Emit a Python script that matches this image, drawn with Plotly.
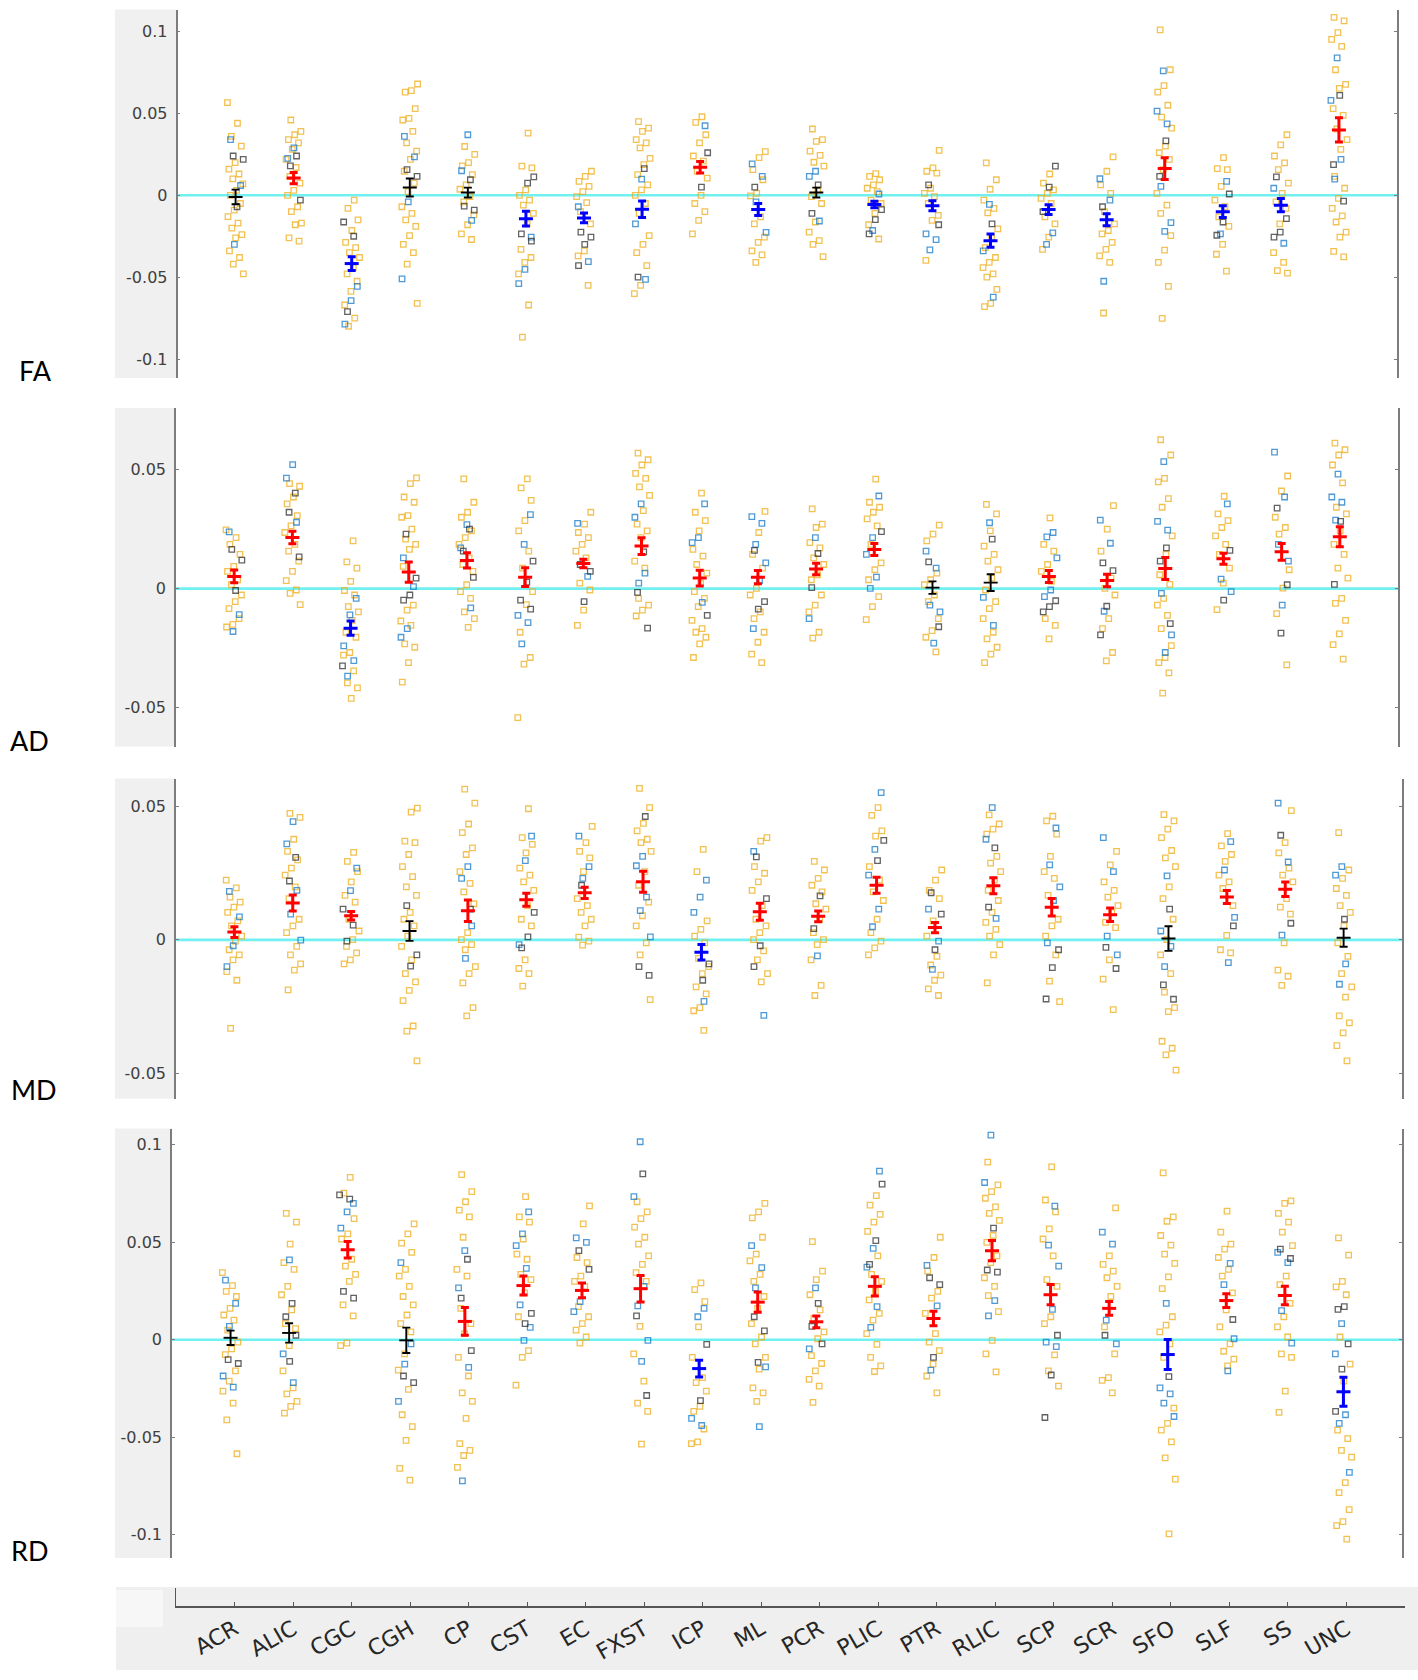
import plotly.graph_objects as go

CATEGORIES = ["ACR", "ALIC", "CGC", "CGH", "CP", "CST", "EC", "FXST", "ICP", "ML",
              "PCR", "PLIC", "PTR", "RLIC", "SCP", "SCR", "SFO", "SLF", "SS", "UNC"]

# ---------------- FA ----------------
FA_MEAN = [-0.001, 0.0105, -0.0417, 0.0048, 0.0017, -0.0143, -0.0138, -0.0085, 0.0171, -0.0087,
           0.0017, -0.0056, -0.0064, -0.0277, -0.0087, -0.0149, 0.0163, -0.010, -0.006, 0.0399]
FA_ERR = [0.0045, 0.0035, 0.0042, 0.0055, 0.003, 0.0045, 0.003, 0.005, 0.0035, 0.0037,
          0.003, 0.002, 0.003, 0.004, 0.003, 0.0037, 0.0067, 0.0036, 0.004, 0.0074]
FA_SIG = [0, 1, -1, 0, 0, -1, -1, -1, 1, -1, 0, -1, -1, -1, -1, -1, 1, -1, -1, 1]
FA_ORANGE = [
    [0.0566, 0.044, 0.036, 0.030, 0.020, 0.016, 0.013, 0.010, 0.007, 0.003, 0.0, -0.005, -0.009, -0.013, -0.017, -0.020, -0.024, -0.026, -0.034, -0.038, -0.042, -0.048],
    [0.046, 0.039, 0.037, 0.034, 0.032, 0.028, 0.022, 0.017, 0.0115, 0.0075, 0.003, 0.0, -0.007, -0.010, -0.017, -0.018, -0.026, -0.028],
    [-0.003, -0.008, -0.015, -0.0215, -0.0287, -0.032, -0.035, -0.038, -0.0442, -0.048, -0.0525, -0.0587, -0.067, -0.075, -0.080],
    [0.068, 0.064, 0.063, 0.053, 0.047, 0.046, 0.039, 0.032, 0.027, 0.022, 0.0147, 0.0074, 0.0023, -0.007, -0.011, -0.015, -0.019, -0.0246, -0.030, -0.035, -0.042, -0.066],
    [0.0298, 0.025, 0.020, 0.018, 0.0126, 0.0064, 0.0037, -0.0008, -0.004, -0.012, -0.018, -0.0236, -0.027],
    [0.038, 0.0178, 0.0167, 0.0033, 0.0, -0.003, -0.006, -0.011, -0.0174, -0.033, -0.038, -0.041, -0.048, -0.067, -0.0866],
    [0.0147, 0.0116, 0.0085, 0.0054, 0.0023, -0.0008, -0.0045, -0.010, -0.0174, -0.034, -0.037, -0.055],
    [0.045, 0.041, 0.039, 0.034, 0.032, 0.029, 0.0225, 0.0188, 0.0126, 0.0064, 0.0033, 0.0, -0.005, -0.011, -0.0246, -0.030, -0.035, -0.043, -0.055, -0.060],
    [0.048, 0.0446, 0.037, 0.032, 0.024, 0.0209, 0.0147, 0.0105, 0.0, -0.005, -0.010, -0.0153, -0.0236],
    [0.0267, 0.023, 0.0157, 0.0095, 0.0012, -0.0004, -0.0132, -0.0174, -0.0256, -0.0287, -0.034, -0.0364, -0.041],
    [0.0405, 0.034, 0.033, 0.027, 0.0244, 0.0202, 0.0178, 0.0033, -0.0008, -0.005, -0.0163, -0.0225, -0.0277, -0.030, -0.0374],
    [0.0132, 0.0116, 0.0095, 0.0064, 0.0043, 0.0023, -0.0029, -0.005, -0.011, -0.018, -0.0267],
    [0.0275, 0.0167, 0.0147, 0.0136, 0.0043, 0.0012, -0.0008, -0.005, -0.0122, -0.0153, -0.0397],
    [0.0198, 0.0095, 0.0037, -0.003, -0.008, -0.0107, -0.0205, -0.0256, -0.032, -0.038, -0.041, -0.0442, -0.048, -0.050, -0.0575, -0.066, -0.068],
    [0.013, 0.0074, 0.0033, 0.0012, -0.0019, -0.005, -0.0132, -0.0174, -0.0256, -0.033],
    [0.0235, 0.0147, 0.0064, 0.0012, -0.010, -0.0174, -0.0215, -0.0236, -0.0287, -0.033, -0.037, -0.041, -0.0719],
    [0.101, 0.0767, 0.067, 0.063, 0.055, 0.0477, 0.041, 0.030, 0.026, 0.022, 0.0157, 0.0012, -0.006, -0.011, -0.0246, -0.0335, -0.041, -0.0556, -0.0752],
    [0.023, 0.0163, 0.0157, 0.0054, -0.003, -0.007, -0.0132, -0.019, -0.030, -0.036, -0.0463],
    [0.037, 0.0308, 0.024, 0.0198, 0.0157, 0.0074, 0.0012, -0.004, -0.008, -0.0174, -0.035, -0.041, -0.046, -0.0475],
    [0.1087, 0.1066, 0.0994, 0.0952, 0.091, 0.0767, 0.0678, 0.0653, 0.053, 0.0488, 0.0405, 0.034, 0.0281, 0.0116, 0.0043, -0.0019, -0.008, -0.0126, -0.0163, -0.0225, -0.0256, -0.0343, -0.0376],
]
FA_BLUE = [
    [0.034, 0.006, -0.030], [0.029, 0.0225], [-0.0556, -0.0643, -0.0787], [0.036, 0.0235, -0.004, -0.051],
    [0.037, 0.015, -0.0153], [-0.0256, -0.0452, -0.054], [-0.007, -0.0405], [0.0099, -0.0174, -0.0514],
    [0.0425], [0.0192, 0.0116, -0.004, -0.0227], [0.0147, 0.0116, -0.0157], [0.0008, -0.0215],
    [-0.0236, -0.0271, -0.0333], [-0.0056, -0.034, -0.0622], [-0.0229, -0.030], [0.0101, -0.003, -0.0525],
    [0.076, 0.0514, 0.0436, 0.0054, -0.0167, -0.022], [0.0085, -0.0236], [0.0043, -0.0293], [0.0839, 0.058, 0.022, 0.0099],
]
FA_DARK = [
    [0.024, 0.022, -0.007], [0.024, 0.018, -0.003], [-0.0163, -0.025, -0.0711], [0.0157, 0.0116],
    [0.0095, -0.0066, -0.009], [0.0112, 0.0074, -0.0236, -0.028], [-0.0225, -0.0256, -0.030, -0.043], [0.0163, -0.050],
    [0.026, 0.005], [0.005], [0.0064, -0.011], [-0.0087, -0.0149, -0.0236],
    [0.0064, -0.018], [-0.0174], [0.0178, 0.005, -0.010], [-0.007],
    [0.0333, 0.0116], [0.0008, -0.0163, -0.0244], [0.0112, -0.0143, -0.0225, -0.0256], [0.061, 0.0188, -0.0035],
]

# ---------------- AD ----------------
AD_MEAN = [0.0051, 0.0214, -0.0166, 0.0069, 0.0118, 0.0048, 0.0105, 0.0178, 0.0044, 0.0048,
           0.0082, 0.0164, 0.0004, 0.0025, 0.0051, 0.0034, 0.0084, 0.0125, 0.0154, 0.0217]
AD_ERR = [0.0027, 0.0026, 0.003, 0.0042, 0.0032, 0.0039, 0.0018, 0.0035, 0.0033, 0.0028,
          0.0024, 0.0025, 0.0026, 0.0035, 0.0025, 0.0026, 0.0046, 0.0023, 0.0035, 0.0042]
AD_SIG = [1, 1, -1, 1, 1, 1, 1, 1, 1, 1, 1, 1, 0, 0, 1, 1, 1, 1, 1, 1]
AD_ORANGE = [
    [0.0246, 0.0214, 0.0185, 0.0143, 0.0093, 0.0072, 0.0037, 0.0016, -0.0027, -0.0055, -0.0084, -0.0126, -0.015, -0.0161],
    [0.044, 0.0429, 0.0384, 0.0355, 0.0306, 0.0263, 0.0235, 0.0185, 0.0157, 0.0115, 0.0072, 0.0033, -0.0006, -0.002, -0.0067],
    [0.020, 0.0112, 0.0086, 0.003, -0.0008, -0.0027, -0.0076, -0.0098, -0.0133, -0.0183, -0.0204, -0.0268, -0.0279, -0.0345, -0.0395, -0.0416, -0.046],
    [0.0464, 0.044, 0.0384, 0.0362, 0.0306, 0.0299, 0.0249, 0.0207, 0.0185, 0.0164, 0.0093, -0.0069, -0.009, -0.0136, -0.0154, -0.0232, -0.0246, -0.031, -0.0392],
    [0.046, 0.0362, 0.032, 0.0299, 0.0242, 0.0214, 0.0185, 0.0129, 0.0101, 0.0072, 0.0016, -0.0013, -0.0041, -0.0098, -0.0126, -0.0163],
    [0.046, 0.0422, 0.037, 0.0285, 0.0242, 0.0157, 0.0086, -0.0013, -0.0067, -0.0183, -0.0289, -0.0317, -0.0541],
    [0.032, 0.027, 0.0235, 0.0214, 0.0185, 0.0157, 0.0129, 0.0023, -0.0006, -0.009, -0.0154],
    [0.0568, 0.054, 0.0518, 0.0483, 0.0462, 0.0426, 0.0391, 0.0327, 0.027, 0.0242, 0.0214, 0.0115, 0.0086, -0.0041, -0.0069, -0.009, -0.0115],
    [0.040, 0.032, 0.0285, 0.0242, 0.0164, 0.0136, 0.0101, 0.0065, 0.0023, -0.0013, -0.0041, -0.0076, -0.0133, -0.0168, -0.0183, -0.0204, -0.0232, -0.0289],
    [0.0324, 0.0235, 0.0143, 0.0086, 0.0001, -0.0027, -0.0098, -0.0126, -0.0183, -0.0225, -0.0275, -0.031],
    [0.0334, 0.027, 0.0256, 0.0193, 0.0171, 0.0129, 0.0101, 0.0058, 0.0037, -0.0027, -0.0069, -0.0098, -0.0183, -0.0208],
    [0.0459, 0.0362, 0.0341, 0.032, 0.0292, 0.0263, 0.0185, 0.0108, 0.0079, 0.0037, -0.0034, -0.0076, -0.013],
    [0.0266, 0.0228, 0.020, 0.0065, 0.0037, 0.0016, -0.0027, -0.0055, -0.0126, -0.0176, -0.0204, -0.0265],
    [0.0353, 0.0313, 0.0242, 0.0178, 0.0143, 0.0115, 0.0079, 0.0044, -0.0006, -0.0055, -0.0084, -0.0126, -0.0183, -0.0211, -0.0246, -0.0275, -0.031],
    [0.0296, 0.0185, 0.0157, 0.0101, 0.0072, 0.003, -0.0126, -0.0154, -0.0211],
    [0.0348, 0.0249, 0.0157, 0.0044, 0.0001, -0.0027, -0.0126, -0.0168, -0.0268, -0.0303],
    [0.0624, 0.056, 0.0462, 0.0447, 0.0377, 0.0341, 0.0221, 0.0143, 0.0058, 0.0018, -0.0041, -0.0069, -0.0112, -0.0168, -0.0239, -0.0289, -0.031, -0.0353, -0.0438],
    [0.0387, 0.0313, 0.0285, 0.0256, 0.0221, 0.0185, 0.0143, 0.0086, 0.0023, -0.0088],
    [0.0472, 0.0409, 0.0299, 0.0256, 0.0228, 0.0079, 0.0002, -0.0105, -0.032],
    [0.061, 0.0582, 0.056, 0.0518, 0.0443, 0.0341, 0.0313, 0.0242, 0.0185, 0.0143, 0.0086, 0.0044, -0.0041, -0.0062, -0.0133, -0.019, -0.0235, -0.0296],
]
AD_BLUE = [
    [0.0238, -0.0109, -0.018], [0.052, 0.0463, 0.0278], [-0.0041, -0.011, -0.024, -0.0302, -0.0367], [0.0129, 0.0008, -0.0168, -0.0204],
    [0.0268, 0.0171, -0.0081], [0.031, 0.0185, -0.0112, -0.0143, -0.0232], [0.0273, 0.0051], [0.0355, 0.0299, 0.0065, 0.0023],
    [0.0355, 0.0214, 0.0193, -0.0058], [0.0302, 0.0273, 0.0185, 0.0108, 0.0033, -0.0168], [0.0214, -0.0126], [0.0388, 0.0214, 0.0143, 0.0048, 0.0001],
    [0.0157, 0.0086, -0.0069, -0.0098, -0.0229], [0.0276, -0.0037, -0.0154], [0.0235, 0.0217, 0.0129, -0.0006, -0.0034], [0.0287, 0.019, -0.0095],
    [0.0532, 0.0282, 0.0245, -0.002, -0.0194, -0.0268], [0.0355, 0.004, -0.0013], [0.0572, 0.0384, 0.0185, 0.0115, -0.0069], [0.048, 0.0384, 0.0362, 0.0287],
]
AD_DARK = [
    [0.0164, 0.0119, -0.0008], [0.040, 0.032, 0.0133], [-0.0324], [0.0228, 0.0044, -0.0027, -0.0048],
    [0.0249, 0.0157, 0.0047], [0.0115, 0.0027, -0.0048, -0.0086], [0.0101, 0.0072, -0.0055], [0.0154, -0.0016, -0.0166],
    [-0.0112], [0.016, -0.0055, -0.0086], [0.0147, 0.0004], [0.0239],
    [0.0112, -0.016], [0.0207], [-0.0051, -0.0076, -0.0098], [0.0108, 0.0075, -0.0074, -0.0194],
    [0.0171, 0.0115, -0.0147], [0.016, -0.0048], [0.0337, 0.0016, -0.0187], [0.0282, 0.0018],
]

# ---------------- MD ----------------
MD_MEAN = [0.0029, 0.0138, 0.009, 0.0033, 0.0109, 0.015, 0.0176, 0.0217, -0.0046, 0.0105,
           0.0088, 0.0204, 0.0046, 0.0202, 0.0122, 0.0094, 0.0005, 0.016, 0.0189, 0.0008]
MD_ERR = [0.002, 0.003, 0.0016, 0.0037, 0.004, 0.0024, 0.0021, 0.0039, 0.0029, 0.0032,
          0.002, 0.003, 0.0019, 0.003, 0.0033, 0.0025, 0.0046, 0.0024, 0.0027, 0.0034]
MD_SIG = [1, 1, 1, 0, 1, 1, 1, 1, -1, 1, 1, 1, 1, 1, 1, 1, 0, 1, 1, 0]
MD_ORANGE = [
    [0.0223, 0.0194, 0.016, 0.0141, 0.0122, 0.0103, 0.0071, 0.0052, 0.0014, -0.0005, -0.0037, -0.0056, -0.0075, -0.0119, -0.0151, -0.0331],
    [0.0473, 0.0458, 0.0376, 0.0331, 0.0299, 0.0268, 0.0242, 0.0198, 0.0154, 0.0077, 0.0052, 0.0027, -0.0024, -0.0056, -0.009, -0.0113, -0.0187],
    [0.0327, 0.0293, 0.0255, 0.0217, 0.0166, 0.0141, 0.0077, 0.0033, 0.0001, -0.0024, -0.0049, -0.0075, -0.009],
    [0.0492, 0.0477, 0.0369, 0.0363, 0.0319, 0.0274, 0.0236, 0.0198, 0.0166, 0.0103, 0.0077, 0.0052, 0.0014, -0.0024, -0.0075, -0.0126, -0.0157, -0.0189, -0.0227, -0.0322, -0.0341, -0.0452],
    [0.0563, 0.0511, 0.0433, 0.0401, 0.0344, 0.0319, 0.0255, 0.0211, 0.0179, 0.0135, 0.0027, 0.0001, -0.0018, -0.0037, -0.01, -0.0126, -0.0161, -0.0253, -0.0284],
    [0.049, 0.0382, 0.0357, 0.0325, 0.0268, 0.0242, 0.0217, 0.0185, 0.0128, 0.0077, 0.0052, -0.0075, -0.0107, -0.0126, -0.0173],
    [0.0424, 0.0363, 0.0331, 0.0306, 0.0255, 0.0154, 0.0128, 0.0103, 0.0077, 0.0052, 0.001, -0.0005, -0.002],
    [0.0566, 0.0494, 0.0435, 0.0407, 0.0376, 0.0363, 0.0331, 0.0255, 0.0204, 0.0141, 0.009, 0.0052, -0.0011, -0.0056, -0.0223],
    [0.0338, 0.0255, 0.0071, 0.0039, 0.0014, -0.0011, -0.0069, -0.01, -0.0126, -0.0176, -0.0202, -0.0253, -0.0265, -0.0338],
    [0.0382, 0.0369, 0.0274, 0.0249, 0.0217, 0.0185, 0.0128, 0.0077, 0.0052, 0.0027, 0.0001, -0.0041, -0.0075, -0.0126, -0.0157],
    [0.0293, 0.0261, 0.023, 0.0204, 0.0179, 0.0135, 0.0115, 0.0077, 0.0027, 0.0001, -0.0018, -0.0075, -0.017, -0.0208],
    [0.0494, 0.0465, 0.0407, 0.0388, 0.0274, 0.0223, 0.0179, 0.0147, 0.0077, 0.0027, -0.0005, -0.003, -0.0056],
    [0.0261, 0.0223, 0.0185, 0.0154, 0.0071, 0.0014, -0.0062, -0.0094, -0.0132, -0.0151, -0.0183, -0.0208],
    [0.0467, 0.0433, 0.0414, 0.0395, 0.0312, 0.0287, 0.0255, 0.0223, 0.0185, 0.0147, 0.0103, 0.0065, 0.0039, 0.0014, -0.0018, -0.0056, -0.0161],
    [0.0462, 0.0445, 0.0395, 0.0312, 0.0255, 0.023, 0.0166, 0.0077, 0.0052, 0.0014, -0.0056, -0.0154, -0.0231],
    [0.0331, 0.028, 0.0217, 0.0185, 0.016, 0.0128, 0.0103, 0.0065, 0.0046, -0.0075, -0.0147, -0.0261],
    [0.0468, 0.0445, 0.0414, 0.0382, 0.0334, 0.0306, 0.0274, 0.0198, 0.0154, 0.0077, 0.0001, -0.0056, -0.0126, -0.0195, -0.0253, -0.0268, -0.0379, -0.0405, -0.043, -0.0487],
    [0.0397, 0.0351, 0.0319, 0.0293, 0.0242, 0.0217, 0.0192, 0.0128, 0.0017, -0.0037, -0.0049],
    [0.0483, 0.0363, 0.0325, 0.0268, 0.0242, 0.0217, 0.0154, 0.0122, 0.0096, -0.0011, -0.0113, -0.0136, -0.017],
    [0.0401, 0.0261, 0.023, 0.0192, 0.0166, 0.0128, 0.0103, 0.0052, -0.0011, -0.0062, -0.0126, -0.0176, -0.0214, -0.0284, -0.031, -0.0348, -0.0395, -0.0452],
]
MD_BLUE = [
    [0.0181, 0.0086, -0.0022, -0.01], [0.0442, 0.0359, 0.0185, 0.0096, -0.0001], [0.0268, 0.0184], [],
    [0.0274, 0.023, 0.0052, -0.0069], [0.0388, 0.0296, -0.0018], [0.0388, 0.0274, 0.023], [0.0312, 0.0277, 0.016, 0.0109, 0.0011],
    [0.0223, 0.016, 0.0103, -0.023], [0.0331, -0.0282], [-0.006], [0.055, 0.0338, 0.0242, 0.0115, 0.0049],
    [0.0115, -0.0005, -0.011], [0.0494, 0.0376, 0.008], [0.0418, 0.028, 0.0198, 0.0147, -0.0011], [0.0382, 0.0255, 0.0014, -0.0056],
    [0.0239, 0.0033, -0.0024, -0.01], [0.0367, 0.0261, 0.0084, -0.0085], [0.0511, 0.0291, 0.0018], [0.0274, 0.0242, -0.009, -0.0166],
]
MD_DARK = [
    [], [0.0308, 0.022], [0.0115, 0.0055, -0.0005], [0.0128, -0.0056, -0.0098],
    [0.0115], [0.0103, 0.0011, -0.003], [0.0204], [0.0461, -0.01, -0.0133],
    [-0.009, -0.0151], [0.031, 0.0154, -0.0022, -0.01], [0.0164, 0.0042], [0.0372, 0.0296],
    [0.0176, 0.0096, -0.0037], [0.0344, 0.0122], [-0.0037, -0.0104, -0.0221], [-0.0028, -0.0107],
    [0.0115, -0.0168, -0.0222], [0.0052], [0.0391, 0.0062], [0.0077],
]

# ---------------- RD ----------------
RD_MEAN = [0.001, 0.0035, 0.0462, -0.0003, 0.0094, 0.0278, 0.0253, 0.0262, -0.0148, 0.0193,
           0.0092, 0.0274, 0.0109, 0.0457, 0.0231, 0.0161, -0.0076, 0.0201, 0.0227, -0.0267]
RD_ERR = [0.0037, 0.005, 0.0042, 0.0065, 0.0071, 0.0049, 0.0038, 0.0068, 0.0043, 0.0052,
          0.003, 0.0049, 0.0037, 0.0052, 0.0052, 0.0035, 0.0077, 0.0035, 0.0048, 0.0074]
RD_SIG = [0, 0, 1, 0, 1, 1, 1, 1, -1, 1, 1, 1, 1, 1, 1, 1, -1, 1, 1, -1]
RD_ORANGE = [
    [0.0344, 0.0278, 0.0248, 0.0222, 0.0161, 0.0127, 0.0101, 0.0049, -0.0012, -0.0047, -0.0076, -0.016, -0.0212, -0.0264, -0.0325, -0.0411, -0.0585],
    [0.0648, 0.0604, 0.0491, 0.0396, 0.0361, 0.0274, 0.0231, 0.0153, 0.0083, 0.0057, -0.003, -0.016, -0.0247, -0.0278, -0.0316, -0.0342, -0.0377],
    [0.0833, 0.0752, 0.0622, 0.0543, 0.0517, 0.0413, 0.0378, 0.0335, 0.03, 0.0179, 0.0122, -0.0017, -0.003],
    [0.0595, 0.0543, 0.0496, 0.0448, 0.0361, 0.0326, 0.0274, 0.0222, 0.0179, 0.0127, 0.0083, 0.004, -0.0073, -0.0156, -0.0255, -0.0385, -0.0446, -0.0516, -0.066, -0.072],
    [0.0847, 0.076, 0.0708, 0.0665, 0.063, 0.0526, 0.0361, 0.0326, 0.0161, 0.0083, 0.0031, -0.009, -0.0186, -0.0273, -0.0316, -0.0403, -0.0533, -0.0568, -0.0594, -0.0655],
    [0.0734, 0.063, 0.0604, 0.0517, 0.0439, 0.0413, 0.0335, 0.0309, 0.024, 0.0118, -0.0056, -0.009, -0.0233],
    [0.0687, 0.0595, 0.0422, 0.0396, 0.0326, 0.03, 0.0274, 0.017, 0.0118, 0.0083, 0.0049, 0.0014, -0.0017],
    [0.0708, 0.0656, 0.0622, 0.0578, 0.0526, 0.0491, 0.043, 0.0387, 0.0344, 0.03, 0.0069, -0.0073, -0.0212, -0.0325, -0.0368, -0.0536],
    [0.0292, 0.0257, 0.0196, 0.0066, -0.009, -0.0194, -0.022, -0.0264, -0.0342, -0.0368, -0.0458, -0.0524, -0.0533],
    [0.07, 0.0656, 0.0625, 0.0526, 0.0439, 0.0405, 0.0335, 0.03, 0.0222, 0.0161, 0.0083, 0.0014, -0.0021, -0.009, -0.0151, -0.0247, -0.0273, -0.0316],
    [0.0503, 0.0352, 0.0309, 0.0231, 0.0153, 0.0109, 0.004, 0.0005, -0.0082, -0.0122, -0.016, -0.0203, -0.0238, -0.0321],
    [0.074, 0.0691, 0.0643, 0.0604, 0.0556, 0.043, 0.0335, 0.03, 0.0248, 0.0205, 0.0135, 0.0101, 0.0031, -0.0024, -0.009, -0.0134, -0.0163],
    [0.0526, 0.0422, 0.0352, 0.0248, 0.0214, 0.0135, 0.0031, -0.0012, -0.0056, -0.0125, -0.0186, -0.0273],
    [0.0911, 0.0795, 0.076, 0.0726, 0.0682, 0.0648, 0.0613, 0.0535, 0.05, 0.043, 0.0396, 0.0318, 0.0274, 0.0226, 0.0144, -0.0003, -0.0073, -0.0165],
    [0.0887, 0.0717, 0.0656, 0.0569, 0.0517, 0.043, 0.0309, 0.0274, 0.0118, 0.0083, -0.0078, -0.016, -0.0238],
    [0.0677, 0.043, 0.0387, 0.0352, 0.0318, 0.0274, 0.0222, 0.0066, -0.0073, -0.0194, -0.0208, -0.0273],
    [0.0856, 0.063, 0.0608, 0.0535, 0.0486, 0.0439, 0.0392, 0.0323, 0.0262, 0.0118, 0.0075, 0.004, -0.0021, -0.009, -0.0351, -0.0429, -0.0464, -0.0524, -0.0606, -0.0715, -0.0996],
    [0.066, 0.0552, 0.0491, 0.0465, 0.0422, 0.0361, 0.0326, 0.024, 0.0153, 0.0066, -0.0021, -0.0059, -0.0099, -0.0134],
    [0.0713, 0.07, 0.0648, 0.0604, 0.0552, 0.0483, 0.0326, 0.0283, 0.0187, 0.0118, 0.0066, 0.0014, -0.0073, -0.009, -0.0264, -0.0373],
    [0.0523, 0.0434, 0.03, 0.0271, 0.0231, 0.0014, -0.0125, -0.0212, -0.0464, -0.0507, -0.0568, -0.0602, -0.0733, -0.0785, -0.0872, -0.0933, -0.0954, -0.1023],
]
RD_BLUE = [
    [0.0306, 0.0187, 0.0069, -0.0186, -0.0243], [0.041, -0.0073, -0.022], [0.07, 0.0656, 0.0573], [0.0396, -0.0021, -0.0125, -0.0316],
    [0.0457, 0.0266, -0.0142, -0.0724], [0.0656, 0.0543, 0.0483, 0.0366, 0.0179, 0.0063, -0.0003], [0.0523, 0.05, 0.0196, 0.0144], [0.1016, 0.0734, 0.0274, 0.0174, -0.0003, -0.0111],
    [0.0161, 0.0118, -0.0403, -0.044], [0.0483, 0.037, 0.0266, -0.0139, -0.0446], [0.0266, -0.0047], [0.0865, 0.0469, 0.0373, 0.017, 0.0063],
    [0.0382, 0.0174, -0.0156], [0.105, 0.0807, 0.0201, 0.0122], [0.0686, 0.0486, 0.0378, 0.0156, -0.0012, -0.0035], [0.0552, 0.0491, 0.0101, -0.0021],
    [0.0187, -0.0247, -0.0278, -0.0325, -0.0394], [0.0392, 0.0283, 0.0005, -0.016], [0.0448, 0.0396, 0.0149, -0.0017], [0.0083, -0.0073, -0.0385, -0.0429, -0.0681],
]
RD_DARK = [
    [-0.0102, -0.0122], [0.0187, 0.0118, 0.0023, -0.0111], [0.0743, 0.0722, 0.0248, 0.0214], [-0.0186, -0.022],
    [0.0413, 0.0214, -0.0056], [0.0135, 0.0083], [0.0457, 0.0361], [0.0851, 0.0122, -0.0286],
    [-0.0024, -0.0312], [0.0118, 0.0045, -0.0116], [0.0187, 0.0069, -0.0021], [0.0799, 0.0509, 0.0387],
    [0.0318, 0.0283, -0.009], [0.0573, 0.0358, 0.0347], [0.0023, -0.0181, -0.0399], [0.0023],
    [-0.0189], [0.0104], [0.0465, 0.0417], [0.017, 0.0156, -0.0021, -0.0151, -0.0368],
]

FA_TICKS = [-0.1, -0.05, 0, 0.05, 0.1]
AD_TICKS = [-0.05, 0, 0.05]
MD_TICKS = [-0.05, 0, 0.05]
RD_TICKS = [-0.1, -0.05, 0, 0.05, 0.1]

# ---------------- layout geometry (pixels) ----------------
W, H = 1418, 1680


def fx(p):
    return p / W


def fy(p):
    return 1 - p / H


panels = [
    # name, mean, err, sig, orange, blue, dark, ticks, yrange, (left, right, top, bottom), label centre
    ("FA", FA_MEAN, FA_ERR, FA_SIG, FA_ORANGE, FA_BLUE, FA_DARK, FA_TICKS, [-0.1116, 0.1135], (177.5, 1397, 9.5, 378), (35, 370)),
    ("AD", AD_MEAN, AD_ERR, AD_SIG, AD_ORANGE, AD_BLUE, AD_DARK, AD_TICKS, [-0.0662, 0.0757], (176, 1398, 408, 746.5), (29, 740)),
    ("MD", MD_MEAN, MD_ERR, MD_SIG, MD_ORANGE, MD_BLUE, MD_DARK, MD_TICKS, [-0.0594, 0.0603], (176, 1402, 778.5, 1098.8), (34, 1089)),
    ("RD", RD_MEAN, RD_ERR, RD_SIG, RD_ORANGE, RD_BLUE, RD_DARK, RD_TICKS, [-0.112, 0.1084], (172, 1402, 1128.5, 1558), (29, 1550)),
]

ORANGE = "rgba(238,172,24,0.75)"
BLUE = "rgba(20,120,200,0.75)"
DARK = "rgba(45,45,45,0.75)"
CYAN = "rgba(96,238,238,0.9)"
SIG_COL = {1: "#ff0000", -1: "#0000ff", 0: "#000000"}
AXCOL = "#7d7d7d"
TICKFONT = dict(family="DejaVu Sans", size=16, color="#404040")


def jitter(k, seed, amp=0.14):
    return (((k + seed) * 0.6180339887) % 1.0 - 0.5) * 2 * amp


def tick_text(v):
    if v == 0:
        return "0"
    return ("%g" % v)


fig = go.Figure()
shapes = []
annotations = []
layout_axes = {}

for pi, (name, mean, err, sig, org, blu, drk, ticks, yr, box, lab) in enumerate(panels):
    n = pi + 1
    xa = "x" if n == 1 else "x%d" % n
    ya = "y" if n == 1 else "y%d" % n
    left, right, top, bottom = box

    # zero line
    fig.add_trace(go.Scatter(x=[0, 21], y=[0, 0], mode="lines", line=dict(color=CYAN, width=2.6),
                             xaxis=xa, yaxis=ya, hoverinfo="skip", showlegend=False))

    for group, col, seed in ((org, ORANGE, 0.0), (blu, BLUE, 0.31), (drk, DARK, 0.57)):
        xs, ys = [], []
        for ci, vals in enumerate(group):
            for k, v in enumerate(vals):
                xs.append(ci + 1 + jitter(k + ci * 7, seed))
                ys.append(v)
        fig.add_trace(go.Scatter(x=xs, y=ys, mode="markers",
                                 marker=dict(symbol="square-open", size=5.5, color=col, line=dict(width=1.3, color=col)),
                                 xaxis=xa, yaxis=ya, hoverinfo="skip", showlegend=False))

    for s in (0, -1, 1):
        idx = [i for i in range(len(CATEGORIES)) if sig[i] == s]
        if not idx:
            continue
        thick = 1.9 if s == 0 else 3.0
        fig.add_trace(go.Scatter(
            x=[i + 1 for i in idx], y=[mean[i] for i in idx], mode="markers",
            marker=dict(symbol="line-ew", size=10, color=SIG_COL[s], line=dict(width=thick, color=SIG_COL[s])),
            error_y=dict(type="data", array=[err[i] for i in idx], visible=True, color=SIG_COL[s],
                         thickness=thick, width=4),
            xaxis=xa, yaxis=ya, hoverinfo="skip", showlegend=False))

    layout_axes["xaxis" if n == 1 else "xaxis%d" % n] = dict(
        domain=[fx(left), fx(right)], range=[0, 21], anchor=ya, visible=False, fixedrange=True)
    layout_axes["yaxis" if n == 1 else "yaxis%d" % n] = dict(
        domain=[fy(bottom), fy(top)], range=yr, anchor=xa, showline=True, linecolor=AXCOL, linewidth=1.6,
        mirror="ticks", ticks="inside", ticklen=3, tickcolor=AXCOL, tickwidth=1,
        tickvals=ticks, ticktext=[tick_text(t) for t in ticks], tickfont=TICKFONT,
        showgrid=False, zeroline=False, ticklabelstandoff=5)

    # grey strip left of the y axis
    shapes.append(dict(type="rect", xref="paper", yref="paper", x0=fx(115), x1=fx(left),
                       y0=fy(bottom), y1=fy(top), fillcolor="#f0f0f0", line=dict(width=0), layer="below"))
    annotations.append(dict(text=name, xref="paper", yref="paper", x=fx(lab[0]), y=fy(lab[1]),
                            xanchor="center", yanchor="middle", showarrow=False,
                            font=dict(family="Lato", size=27, color="#000000")))

# bottom axis with category labels
fig.add_trace(go.Scatter(x=[None], y=[None], xaxis="x5", yaxis="y5", showlegend=False, hoverinfo="skip"))
layout_axes["xaxis5"] = dict(domain=[fx(176), fx(1405)], range=[0, 21], anchor="y5", showline=True,
                             linecolor="#555555", linewidth=1.6, ticks="inside", ticklen=4, tickcolor="#555555",
                             tickvals=list(range(1, 21)), ticktext=CATEGORIES, tickangle=-30,
                             tickfont=dict(family="DejaVu Sans", size=22, color="#262626"),
                             showgrid=False, zeroline=False)
layout_axes["yaxis5"] = dict(domain=[fy(1606), fy(1588)], range=[0, 1], anchor="x5", showline=True,
                             linecolor="#555555", linewidth=1.4, ticks="", showticklabels=False,
                             showgrid=False, zeroline=False)
shapes.append(dict(type="rect", xref="paper", yref="paper", x0=fx(116), x1=1.0, y0=fy(1670), y1=fy(1587),
                   fillcolor="#efefef", line=dict(width=0), layer="below"))
shapes.append(dict(type="rect", xref="paper", yref="paper", x0=fx(116), x1=fx(163), y0=fy(1627), y1=fy(1590),
                   fillcolor="#f7f7f7", line=dict(width=0), layer="below"))

fig.update_layout(
    width=W, height=H, margin=dict(l=0, r=0, t=0, b=0),
    paper_bgcolor="white", plot_bgcolor="rgba(0,0,0,0)",
    showlegend=False, shapes=shapes, annotations=annotations, **layout_axes)

fig.write_html("out.html", config={"displayModeBar": False},
               post_script="document.body.style.margin='0';document.body.style.overflow='hidden';")
